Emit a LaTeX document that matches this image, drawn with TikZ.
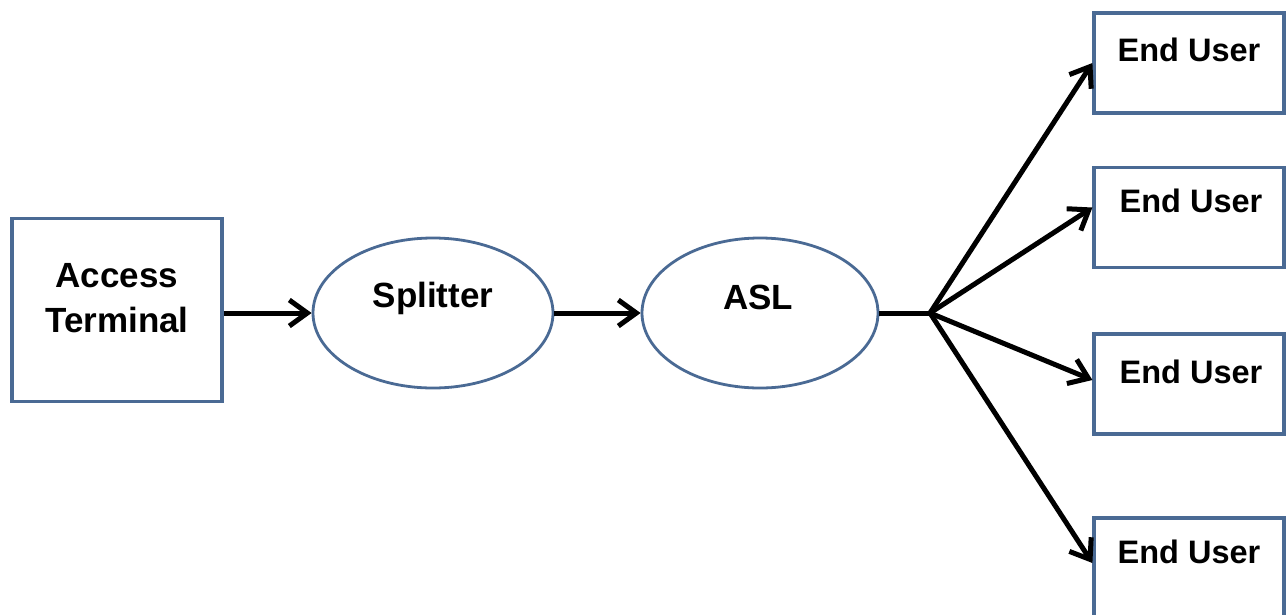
\documentclass[tikz,border=0pt]{standalone}
\usepackage{fontspec}
\setmainfont{Liberation Sans}
\usetikzlibrary{arrows.meta,shapes.geometric}
\definecolor{boxblue}{HTML}{4A6A94}
\begin{document}
\begin{tikzpicture}[x=1pt,y=-1pt,
  boxst/.style={draw=boxblue,line width=3.2pt,fill=white,inner sep=0pt},
  ellst/.style={ellipse,draw=boxblue,line width=2.8pt,fill=white,inner sep=0pt},
  lbl/.style={font=\bfseries\fontsize{35}{45}\selectfont,inner sep=0pt},
  eulbl/.style={font=\bfseries\fontsize{32.5}{38}\selectfont,inner sep=0pt},
  conn/.style={line width=5pt,-{Straight Barb[length=18pt,width=26pt,line width=5pt]}},
  plain/.style={line width=5pt}]
\useasboundingbox (0,0) rectangle (1286,614);
\fill[white] (0,0) rectangle (1286,614);
\node[boxst,minimum width=210pt,minimum height=183pt] (at) at (117,310) {};
\node[lbl,align=center] (attext) at (117,298) {Access\\Terminal};
\node[ellst,minimum width=240pt,minimum height=150pt] (sp) at (433,313) {};
\node[lbl] (sptext) at (433,298) {Splitter};
\node[ellst,minimum width=236pt,minimum height=150pt] (asl) at (760,313) {};
\node[lbl] (asltext) at (758,297) {ASL};
\node[boxst,minimum width=190pt,minimum height=100pt] (e1) at (1189,63) {};
\node[boxst,minimum width=190pt,minimum height=100pt] (e2) at (1189,217.5) {};
\node[boxst,minimum width=190pt,minimum height=100pt] (e3) at (1189,384) {};
\node[boxst,minimum width=190pt,minimum height=100pt] (e4) at (1189,568) {};
\node[eulbl] (t1) at (1189,50) {End User};
\node[eulbl] (t2) at (1191,201) {End User};
\node[eulbl] (t3) at (1191,372) {End User};
\node[eulbl] (t4) at (1189,552) {End User};
\coordinate (j) at (930,313);
\draw[conn] (at.east |- sp.west) -- (sp.west);
\draw[conn] (sp.east) -- (asl.west);
\draw[plain] (asl.east) -- (j);
\draw[conn] (j) -- (e1.west);
\draw[conn] (j) -- ([yshift=10pt]e2.west);
\draw[conn] (j) -- ([yshift=4pt]e3.west);
\draw[conn] (j) -- ([yshift=5pt]e4.west);
\end{tikzpicture}
\end{document}
